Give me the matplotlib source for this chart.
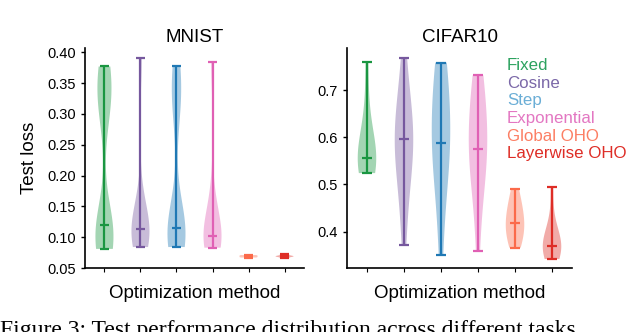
import matplotlib
matplotlib.use("Agg")
import matplotlib.pyplot as plt
import numpy as np

plt.rcParams["font.family"] = ["Liberation Sans", "DejaVu Sans"]

methods = ["Fixed", "Cosine", "Step", "Exponential", "Global OHO", "Layerwise OHO"]
line_colors = ["#1a9641", "#76589e", "#1f78b4", "#e060b4", "#fb6a4a", "#de2d26"]
text_colors = ["#2ca25f", "#7b68a8", "#6baed6", "#e377c2", "#fc7f64", "#de2d26"]

# test loss samples per method
mnist = [
    [0.081, 0.088, 0.095, 0.102, 0.108, 0.114, 0.119, 0.300, 0.320, 0.335, 0.350, 0.365, 0.377],
    [0.084, 0.090, 0.097, 0.105, 0.113, 0.120, 0.135, 0.160, 0.391],
    [0.084, 0.091, 0.098, 0.105, 0.110, 0.115, 0.150, 0.300, 0.330, 0.355, 0.378],
    [0.083, 0.087, 0.092, 0.097, 0.102, 0.112, 0.130, 0.165, 0.384],
    [0.067, 0.068, 0.069, 0.070, 0.071],
    [0.066, 0.068, 0.069, 0.070, 0.072],
]
cifar = [
    [0.524, 0.532, 0.540, 0.548, 0.553, 0.557, 0.562, 0.570, 0.610, 0.660, 0.760],
    [0.372, 0.450, 0.500, 0.540, 0.570, 0.580, 0.596, 0.600, 0.610, 0.630, 0.660, 0.700, 0.768],
    [0.351, 0.450, 0.520, 0.550, 0.570, 0.580, 0.588, 0.620, 0.660, 0.690, 0.720, 0.740, 0.758],
    [0.358, 0.460, 0.510, 0.540, 0.560, 0.570, 0.576, 0.600, 0.630, 0.660, 0.690, 0.710, 0.731],
    [0.366, 0.375, 0.390, 0.400, 0.410, 0.418, 0.430, 0.440, 0.455, 0.470, 0.491],
    [0.342, 0.350, 0.356, 0.362, 0.366, 0.370, 0.375, 0.382, 0.395, 0.420, 0.494],
]

W, H = 630, 332
fig = plt.figure(figsize=(W / 100, H / 100), dpi=100)
ax1 = fig.add_axes([85 / W, 64 / H, 219 / W, 220 / H])
ax2 = fig.add_axes([347 / W, 64 / H, 225 / W, 220 / H])


def draw(ax, data, title, bw):
    for i, vals in enumerate(data):
        parts = ax.violinplot([vals], positions=[i + 1], widths=0.5,
                              showmedians=True, bw_method=bw)
        for b in parts["bodies"]:
            b.set_facecolor(line_colors[i])
            b.set_edgecolor("none")
            b.set_alpha(0.4)
        for key in ("cbars", "cmins", "cmaxes", "cmedians"):
            parts[key].set_color(line_colors[i])
            parts[key].set_linewidth(1.6)
    ax.set_xlim(0.46, 6.54)
    ax.set_xticks(range(1, 7))
    ax.set_xticklabels([])
    ax.tick_params(axis="x", length=3, width=0.8)
    ax.tick_params(axis="y", length=3, width=1, labelsize=10.5)
    for s in ("top", "right"):
        ax.spines[s].set_visible(False)
    for s in ("left", "bottom"):
        ax.spines[s].set_linewidth(1.2)
    ax.set_xlabel("Optimization method", fontsize=13.5, labelpad=6)
    ax.set_title(title, fontsize=13.5, pad=4)


draw(ax1, mnist, "MNIST", 0.4)
ax1.set_ylim(0.05, 0.407)
ax1.set_yticks(np.arange(0.05, 0.401, 0.05))
ax1.set_yticklabels([f"{v:.2f}" for v in np.arange(0.05, 0.401, 0.05)])
ax1.set_ylabel("Test loss", fontsize=13.5, labelpad=7)

draw(ax2, cifar, "CIFAR10", 0.8)
ax2.set_ylim(0.323, 0.789)
ax2.set_yticks([0.4, 0.5, 0.6, 0.7])
ax2.set_yticklabels(["0.4", "0.5", "0.6", "0.7"])

for i, m in enumerate(methods):
    fig.text(507 / W, 1 - (70 + 17.7 * i) / H, m, color=text_colors[i],
             fontsize=12.2, va="baseline", ha="left")

fig.text(0.0, 1 - 320 / H, "Figure 3: Test performance distribution across different tasks",
         family=["Liberation Serif", "DejaVu Serif"], fontsize=17, va="top", ha="left")

fig.savefig("out.png", dpi=100)
